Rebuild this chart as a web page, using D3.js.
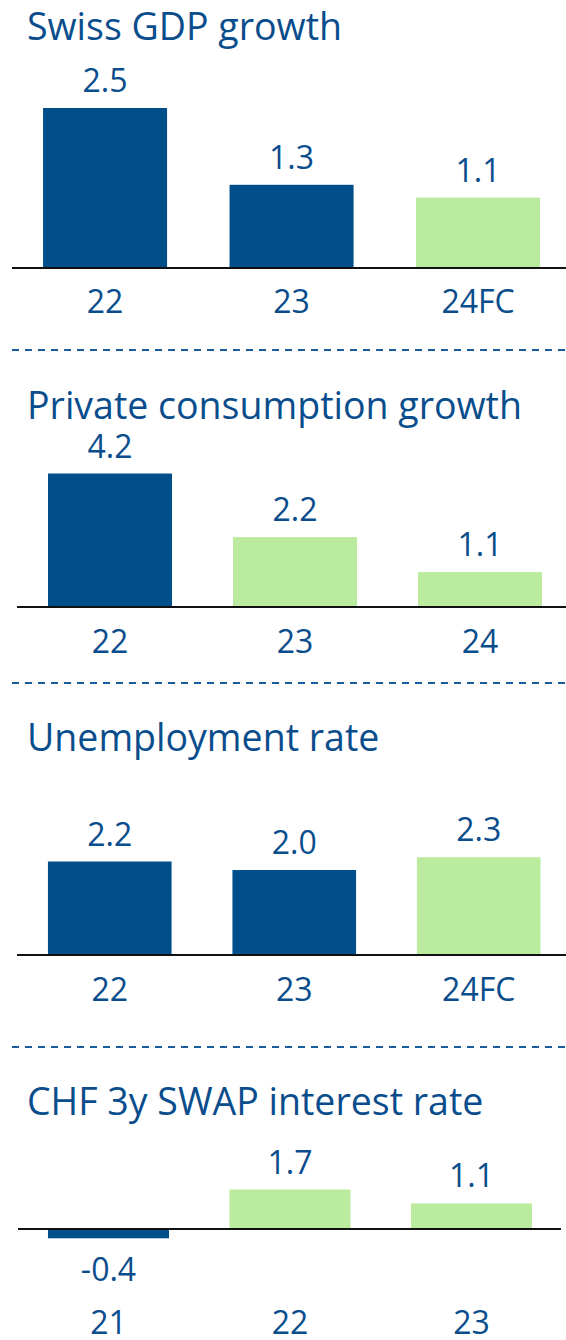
<!DOCTYPE html>
<html>
<head>
<meta charset="utf-8">
<script src="https://cdn.jsdelivr.net/npm/d3@7/dist/d3.min.js"></script>
<style>
  html, body { margin: 0; padding: 0; background: #fff; }
  svg { display: block; }
  text { font-family: "Open Sans", "Liberation Sans", Arial, sans-serif; fill: #0A4D8C; }
</style>
</head>
<body>
<script>
// ---- Data ----
const titles = ["Swiss GDP growth", "Private consumption growth", "Unemployment rate", "CHF 3y SWAP interest rate"];

const gdpCategories = ["22", "23", "24FC"];
const gdpValues = [2.5, 1.3, 1.1];
const gdpForecast = [false, false, true];

const consCategories = ["22", "23", "24"];
const consValues = [4.2, 2.2, 1.1];
const consForecast = [false, true, true];

const unempCategories = ["22", "23", "24FC"];
const unempValues = [2.2, 2.0, 2.3];
const unempForecast = [false, false, true];

const swapCategories = ["21", "22", "23"];
const swapValues = [-0.4, 1.7, 1.1];
const swapForecast = [false, true, true];

// ---- Layout (positions/styles, not data) ----
const W = 566, H = 1340;
const BLUE = "#004E8A", GREEN = "#BAEB9F";

const panels = [
  { title: titles[0], cats: gdpCategories, vals: gdpValues, fc: gdpForecast,
    titleY: 40, xRange: [11.8, 571.3], pad: 0.335, lineX: [12, 566],
    domain: [0, 2.5], range: [268, 108], catOffset: 45, sepY: 350 },
  { title: titles[1], cats: consCategories, vals: consValues, fc: consForecast,
    titleY: 419, xRange: [17.5, 572.5], pad: 0.33, lineX: [17, 566],
    domain: [0, 4.2], range: [607, 473.5], catOffset: 46, sepY: 683 },
  { title: titles[2], cats: unempCategories, vals: unempValues, fc: unempForecast,
    titleY: 751, xRange: [17.5, 571], pad: 0.33, lineX: [17, 566],
    domain: [0, 2.2], range: [955, 861.5], catOffset: 46, sepY: 1047 },
  { title: titles[3], cats: swapCategories, vals: swapValues, fc: swapForecast,
    titleY: 1115, xRange: [17.75, 562.25], pad: 0.333, lineX: [18, 561],
    domain: [0, 1.7], range: [1229, 1189.5], catOffset: 105, sepY: null }
];

const fmt = v => (v < 0 ? "-" : "") + d3.format(".1f")(Math.abs(v));

const svg = d3.select("body").append("svg")
  .attr("width", W).attr("height", H);

panels.forEach(p => {
  const g = svg.append("g");
  const x = d3.scaleBand().domain(p.cats).range(p.xRange)
    .paddingInner(p.pad).paddingOuter(p.pad / 2);
  const y = d3.scaleLinear().domain(p.domain).range(p.range);
  const zero = y(0);
  const data = p.cats.map((c, i) => ({ c, v: p.vals[i], fc: p.fc[i] }));

  g.append("text")
    .attr("x", 27).attr("y", p.titleY)
    .attr("font-size", 37.5)
    .text(p.title);

  g.selectAll("rect.bar").data(data).enter().append("rect")
    .attr("class", "bar")
    .attr("x", d => x(d.c))
    .attr("width", x.bandwidth())
    .attr("y", d => Math.min(y(d.v), zero))
    .attr("height", d => Math.abs(y(d.v) - zero))
    .attr("fill", d => d.fc ? GREEN : BLUE);

  g.append("line")
    .attr("x1", p.lineX[0]).attr("x2", p.lineX[1])
    .attr("y1", zero).attr("y2", zero)
    .attr("stroke", "#111").attr("stroke-width", 2);

  g.selectAll("text.val").data(data).enter().append("text")
    .attr("class", "val")
    .attr("x", d => x(d.c) + x.bandwidth() / 2)
    .attr("y", d => d.v >= 0 ? y(d.v) - 16 : y(d.v) + 43)
    .attr("text-anchor", "middle")
    .attr("font-size", 32)
    .text(d => fmt(d.v));

  g.selectAll("text.cat").data(data).enter().append("text")
    .attr("class", "cat")
    .attr("x", d => x(d.c) + x.bandwidth() / 2)
    .attr("y", zero + p.catOffset)
    .attr("text-anchor", "middle")
    .attr("font-size", 32)
    .text(d => d.c);

  if (p.sepY !== null) {
    g.append("line")
      .attr("x1", 12).attr("x2", 566)
      .attr("y1", p.sepY).attr("y2", p.sepY)
      .attr("stroke", "#1A5C9A").attr("stroke-width", 2)
      .attr("stroke-dasharray", "7,6");
  }
});
</script>
</body>
</html>
